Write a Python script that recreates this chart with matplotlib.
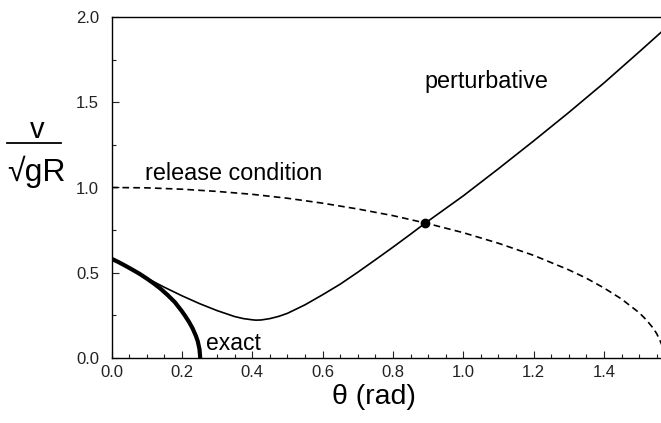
import numpy as np
import matplotlib
matplotlib.use("Agg")
import matplotlib.pyplot as plt
from matplotlib.lines import Line2D
from matplotlib.ticker import MultipleLocator

plt.rcParams["font.family"] = ["Liberation Sans", "DejaVu Sans"]

# values
theta_pert = [0.0, 0.05, 0.1, 0.15, 0.2, 0.25, 0.3, 0.35, 0.375, 0.4, 0.41,
              0.425, 0.45, 0.475, 0.5, 0.55, 0.6, 0.65, 0.7, 0.75, 0.8, 0.85,
              0.891, 0.9, 1.0, 1.1, 1.2, 1.3, 1.4, 1.5, 1.565]
v_pert = [0.582, 0.526, 0.468, 0.415, 0.365, 0.319, 0.278, 0.243, 0.231, 0.224,
          0.222, 0.223, 0.231, 0.244, 0.262, 0.312, 0.371, 0.433, 0.503, 0.576,
          0.650, 0.726, 0.790, 0.803, 0.951, 1.110, 1.273, 1.440, 1.613, 1.795,
          1.915]

theta_exact = [0.0, 0.02, 0.04, 0.06, 0.08, 0.1, 0.12, 0.14, 0.16, 0.18, 0.2,
               0.21, 0.22, 0.23, 0.24, 0.245, 0.25, 0.252]
v_exact = [0.582, 0.562, 0.540, 0.517, 0.493, 0.466, 0.437, 0.405, 0.368, 0.327,
           0.274, 0.244, 0.212, 0.175, 0.128, 0.098, 0.050, 0.0]

theta_rel = [0.0, 0.1, 0.2, 0.3, 0.4, 0.5, 0.6, 0.7, 0.8, 0.9, 1.0, 1.1, 1.2,
             1.3, 1.35, 1.4, 1.45, 1.5, 1.52, 1.54, 1.55, 1.56, 1.565]
v_rel = [1.0, 0.998, 0.990, 0.977, 0.960, 0.937, 0.908, 0.874, 0.835, 0.788,
         0.735, 0.673, 0.602, 0.517, 0.468, 0.411, 0.346, 0.266, 0.225, 0.175,
         0.143, 0.100, 0.075]

cross_pt = (0.891, 0.790)

W, H = 661, 423
fig = plt.figure(figsize=(W / 100, H / 100), dpi=100)
ax = fig.add_axes([111.6 / W, 65 / H, 552.4 / W, 341 / H])

ax.plot(theta_rel, v_rel, color="black", lw=1.2, dashes=(4, 2.5))
ax.plot(theta_pert, v_pert, color="black", lw=1.2)
ax.plot(theta_exact, v_exact, color="black", lw=3.0, solid_capstyle="butt")
ax.plot(*cross_pt, "o", color="black", ms=6)

ax.set_xlim(0, 1.5708)
ax.set_ylim(0, 2.0)
ax.xaxis.set_major_locator(MultipleLocator(0.2))
ax.xaxis.set_minor_locator(MultipleLocator(0.05))
ax.yaxis.set_major_locator(MultipleLocator(0.5))
ax.yaxis.set_minor_locator(MultipleLocator(0.25))
ax.xaxis.set_major_formatter(plt.FormatStrFormatter("%.1f"))
ax.yaxis.set_major_formatter(plt.FormatStrFormatter("%.1f"))
ax.tick_params(which="both", direction="in", top=False, right=False,
               labelsize=12, width=0.8, colors="#222222")
ax.tick_params(which="major", length=5)
ax.tick_params(which="minor", length=3)
ax.tick_params(axis="y", pad=9)
ax.tick_params(axis="x", pad=5)
ax.spines["right"].set_visible(False)
for s in ["left", "bottom", "top"]:
    ax.spines[s].set_linewidth(1.0)

ax.text(0.095, 1.044, "release condition", fontsize=16.8)
ax.text(0.891, 1.582, "perturbative", fontsize=16.8)
ax.text(0.268, 0.047, "exact", fontsize=16.5)

fig.text(373.5 / W, 1 - 404 / H, "θ (rad)", fontsize=20.5, ha="center",
         va="baseline")

# y label as a fraction v / sqrt(gR)
fig.text(37.5 / W, 1 - 138 / H, "v", fontsize=21, ha="center", va="baseline")
fig.add_artist(Line2D([7 / W, 61 / W], [1 - 143 / H, 1 - 143 / H],
                      color="black", lw=1.3))
fig.text(36 / W, 1 - 181 / H, "√gR", fontsize=23, ha="center", va="baseline")

fig.savefig("out.png", dpi=100)
